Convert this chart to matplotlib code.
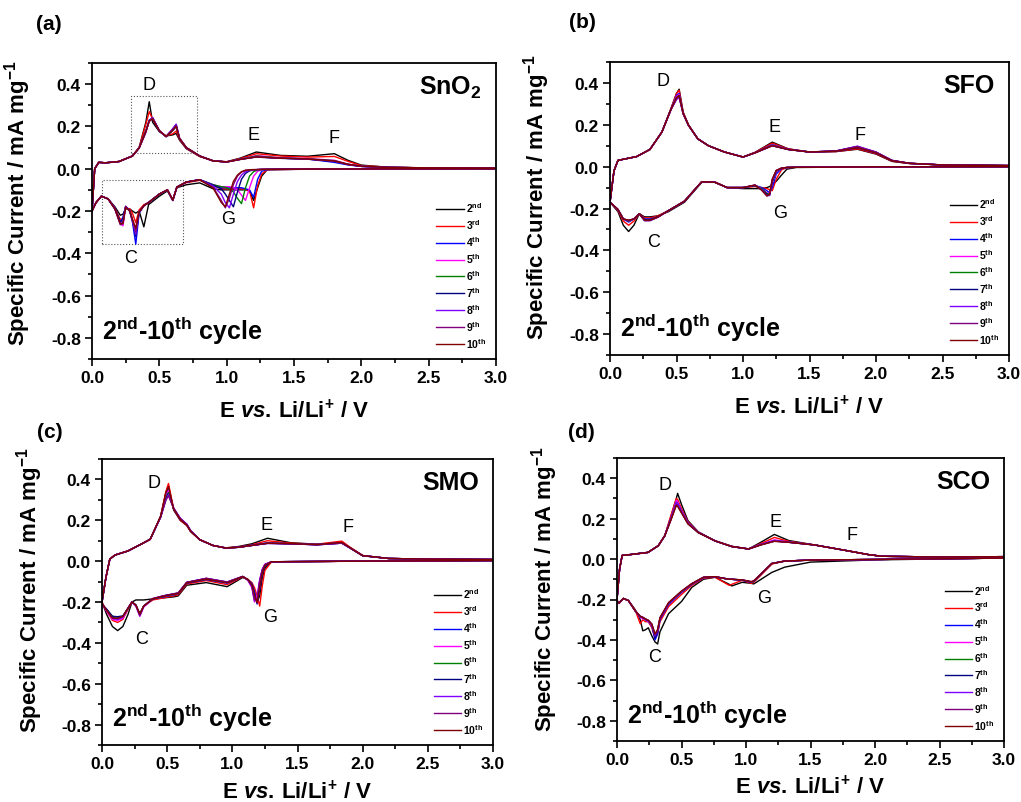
import numpy as np
import matplotlib
matplotlib.use("Agg")
import matplotlib.pyplot as plt
from matplotlib.patches import Rectangle
from matplotlib.ticker import MultipleLocator, FormatStrFormatter

plt.rcParams['font.family'] = ['Liberation Sans', 'DejaVu Sans']
plt.rcParams['mathtext.fontset'] = 'custom'
plt.rcParams['mathtext.rm'] = 'Liberation Sans:bold'
plt.rcParams['mathtext.it'] = 'Liberation Sans:italic:bold'
plt.rcParams['mathtext.bf'] = 'Liberation Sans:bold'

# cycle labels and colours (2nd ... 10th)
CYCLES = [r'2$^{\mathbf{nd}}$', r'3$^{\mathbf{rd}}$', r'4$^{\mathbf{th}}$', r'5$^{\mathbf{th}}$',
          r'6$^{\mathbf{th}}$', r'7$^{\mathbf{th}}$', r'8$^{\mathbf{th}}$', r'9$^{\mathbf{th}}$',
          r'10$^{\mathbf{th}}$']
COLORS = ['#000000', '#ff0000', '#0000ff', '#ff00ff', '#008000',
          '#000080', '#8000ff', '#800080', '#800000']

# ---------------- (a) SnO2 ----------------
A_E_AN = [0.0, 0.02, 0.05, 0.1, 0.2, 0.3, 0.35, 0.4, 0.425, 0.45, 0.5, 0.55, 0.6, 0.625, 0.65,
          0.7, 0.8, 0.9, 1.0, 1.1, 1.22, 1.4, 1.6, 1.8, 1.9, 2.0, 2.2, 2.5, 3.0]
A_I_AN = [
    [-0.20, 0.0, 0.03, 0.028, 0.034, 0.06, 0.10, 0.22, 0.317, 0.22, 0.175, 0.155, 0.16, 0.167, 0.135,
     0.095, 0.058, 0.037, 0.033, 0.05, 0.079, 0.063, 0.059, 0.071, 0.04, 0.017, 0.007, 0.004, 0.003],
    [-0.20, 0.0, 0.03, 0.028, 0.034, 0.06, 0.10, 0.21, 0.27, 0.235, 0.178, 0.155, 0.165, 0.178, 0.138,
     0.096, 0.058, 0.037, 0.033, 0.048, 0.071, 0.06, 0.055, 0.058, 0.035, 0.015, 0.007, 0.004, 0.003],
    [-0.20, 0.0, 0.03, 0.028, 0.034, 0.06, 0.098, 0.18, 0.225, 0.238, 0.178, 0.152, 0.18, 0.20, 0.142,
     0.098, 0.06, 0.037, 0.032, 0.045, 0.058, 0.05, 0.046, 0.03, 0.018, 0.011, 0.006, 0.004, 0.003],
    [-0.20, 0.0, 0.03, 0.028, 0.034, 0.06, 0.098, 0.175, 0.225, 0.24, 0.18, 0.152, 0.185, 0.205, 0.143,
     0.10, 0.06, 0.037, 0.032, 0.045, 0.062, 0.052, 0.048, 0.04, 0.022, 0.012, 0.006, 0.004, 0.003],
    [-0.20, 0.0, 0.03, 0.028, 0.034, 0.06, 0.098, 0.178, 0.228, 0.238, 0.18, 0.152, 0.182, 0.20, 0.142,
     0.10, 0.06, 0.037, 0.032, 0.045, 0.06, 0.051, 0.047, 0.038, 0.021, 0.012, 0.006, 0.004, 0.003],
    [-0.20, 0.0, 0.03, 0.028, 0.034, 0.06, 0.098, 0.175, 0.23, 0.24, 0.18, 0.152, 0.188, 0.21, 0.144,
     0.10, 0.06, 0.037, 0.032, 0.044, 0.055, 0.049, 0.045, 0.035, 0.02, 0.011, 0.006, 0.004, 0.003],
    [-0.20, 0.0, 0.03, 0.028, 0.034, 0.06, 0.098, 0.172, 0.228, 0.242, 0.18, 0.152, 0.19, 0.21, 0.145,
     0.10, 0.06, 0.037, 0.032, 0.044, 0.057, 0.05, 0.046, 0.036, 0.02, 0.011, 0.006, 0.004, 0.003],
    [-0.20, 0.0, 0.03, 0.028, 0.034, 0.06, 0.098, 0.174, 0.226, 0.24, 0.18, 0.152, 0.186, 0.205, 0.144,
     0.10, 0.06, 0.037, 0.032, 0.044, 0.056, 0.05, 0.046, 0.036, 0.02, 0.011, 0.006, 0.004, 0.003],
    [-0.20, 0.0, 0.03, 0.028, 0.034, 0.06, 0.098, 0.176, 0.225, 0.236, 0.18, 0.152, 0.182, 0.20, 0.143,
     0.10, 0.06, 0.037, 0.032, 0.044, 0.056, 0.05, 0.046, 0.037, 0.021, 0.012, 0.006, 0.004, 0.003],
]
A_E_CA = [0.0, 0.03, 0.07, 0.12, 0.17, 0.21, 0.23, 0.25, 0.28, 0.3, 0.325, 0.35, 0.385, 0.42, 0.5,
          0.56, 0.6, 0.63, 0.7, 0.8, 0.9, 0.96, 0.99, 1.02, 1.05, 1.08, 1.11, 1.14, 1.17, 1.2,
          1.23, 1.26, 1.3, 1.5, 2.0, 3.0]
A_I_CA = [
    [-0.20, -0.16, -0.13, -0.143, -0.18, -0.22, -0.215, -0.19, -0.19, -0.20, -0.21, -0.20, -0.275, -0.17, -0.13,
     -0.105, -0.15, -0.09, -0.076, -0.067, -0.095, -0.10, -0.10, -0.10, -0.10, -0.10, -0.10, -0.10, -0.105, -0.15,
     -0.09, -0.035, -0.005, -0.003, -0.001, 0.0],
    [-0.20, -0.16, -0.13, -0.143, -0.185, -0.24, -0.235, -0.185, -0.19, -0.21, -0.255, -0.195, -0.17, -0.16, -0.12,
     -0.10, -0.15, -0.088, -0.066, -0.055, -0.08, -0.094, -0.095, -0.095, -0.095, -0.095, -0.095, -0.098, -0.105, -0.185,
     -0.08, -0.025, -0.005, -0.003, -0.001, 0.0],
    [-0.20, -0.16, -0.13, -0.143, -0.185, -0.255, -0.23, -0.178, -0.20, -0.25, -0.357, -0.21, -0.175, -0.16, -0.12,
     -0.10, -0.15, -0.087, -0.063, -0.052, -0.076, -0.09, -0.09, -0.09, -0.09, -0.09, -0.09, -0.095, -0.10, -0.135,
     -0.05, -0.012, -0.004, -0.003, -0.001, 0.0],
    [-0.20, -0.16, -0.13, -0.143, -0.19, -0.26, -0.27, -0.18, -0.20, -0.24, -0.29, -0.205, -0.175, -0.16, -0.12,
     -0.10, -0.15, -0.087, -0.063, -0.052, -0.076, -0.085, -0.085, -0.085, -0.088, -0.10, -0.125, -0.15, -0.09, -0.035,
     -0.012, -0.005, -0.003, -0.002, -0.001, 0.0],
    [-0.20, -0.16, -0.13, -0.143, -0.19, -0.255, -0.25, -0.18, -0.20, -0.24, -0.30, -0.205, -0.175, -0.16, -0.12,
     -0.10, -0.15, -0.087, -0.063, -0.052, -0.076, -0.085, -0.088, -0.095, -0.11, -0.14, -0.165, -0.09, -0.035, -0.014,
     -0.006, -0.004, -0.003, -0.002, -0.001, 0.0],
    [-0.20, -0.16, -0.13, -0.143, -0.19, -0.25, -0.24, -0.178, -0.20, -0.245, -0.32, -0.205, -0.175, -0.16, -0.12,
     -0.10, -0.15, -0.087, -0.063, -0.052, -0.078, -0.095, -0.12, -0.15, -0.18, -0.11, -0.05, -0.022, -0.01, -0.006,
     -0.004, -0.003, -0.003, -0.002, -0.001, 0.0],
    [-0.20, -0.16, -0.13, -0.143, -0.19, -0.26, -0.25, -0.178, -0.20, -0.245, -0.31, -0.205, -0.175, -0.16, -0.12,
     -0.10, -0.148, -0.087, -0.063, -0.052, -0.082, -0.12, -0.16, -0.185, -0.12, -0.06, -0.03, -0.014, -0.007, -0.005,
     -0.004, -0.003, -0.003, -0.002, -0.001, 0.0],
    [-0.20, -0.16, -0.13, -0.143, -0.19, -0.265, -0.26, -0.18, -0.20, -0.24, -0.30, -0.205, -0.175, -0.16, -0.12,
     -0.10, -0.148, -0.087, -0.063, -0.052, -0.088, -0.15, -0.185, -0.14, -0.075, -0.035, -0.016, -0.008, -0.006, -0.005,
     -0.004, -0.003, -0.003, -0.002, -0.001, 0.0],
    [-0.20, -0.16, -0.13, -0.143, -0.19, -0.26, -0.26, -0.182, -0.20, -0.24, -0.28, -0.205, -0.175, -0.16, -0.12,
     -0.10, -0.148, -0.087, -0.063, -0.052, -0.092, -0.16, -0.18, -0.12, -0.06, -0.03, -0.014, -0.007, -0.005, -0.004,
     -0.004, -0.003, -0.003, -0.002, -0.001, 0.0],
]

# ---------------- (b) SFO ----------------
B_E_AN = [0.0, 0.03, 0.06, 0.2, 0.3, 0.39, 0.46, 0.5, 0.52, 0.55, 0.59, 0.66, 0.74, 0.86, 1.0, 1.09,
          1.22, 1.34, 1.5, 1.7, 1.86, 2.0, 2.12, 2.25, 2.5, 3.0]
B_I_AN = [
    [-0.17, -0.02, 0.03, 0.048, 0.082, 0.165, 0.28, 0.35, 0.37, 0.26, 0.20, 0.133, 0.10, 0.07, 0.046, 0.068,
     0.117, 0.085, 0.07, 0.072, 0.083, 0.06, 0.025, 0.015, 0.008, 0.005],
    [-0.17, -0.02, 0.03, 0.048, 0.082, 0.165, 0.28, 0.35, 0.365, 0.26, 0.20, 0.133, 0.10, 0.07, 0.046, 0.068,
     0.112, 0.085, 0.07, 0.072, 0.085, 0.062, 0.026, 0.015, 0.008, 0.005],
    [-0.17, -0.02, 0.03, 0.048, 0.082, 0.165, 0.278, 0.34, 0.35, 0.255, 0.198, 0.133, 0.10, 0.07, 0.046, 0.066,
     0.105, 0.083, 0.07, 0.073, 0.09, 0.065, 0.028, 0.016, 0.008, 0.005],
    [-0.17, -0.02, 0.03, 0.048, 0.082, 0.165, 0.277, 0.335, 0.345, 0.255, 0.198, 0.133, 0.10, 0.07, 0.046, 0.066,
     0.103, 0.083, 0.07, 0.074, 0.093, 0.067, 0.029, 0.016, 0.008, 0.005],
    [-0.17, -0.02, 0.03, 0.048, 0.082, 0.165, 0.276, 0.33, 0.34, 0.254, 0.198, 0.133, 0.10, 0.07, 0.046, 0.066,
     0.102, 0.082, 0.07, 0.074, 0.095, 0.068, 0.029, 0.016, 0.008, 0.005],
    [-0.17, -0.02, 0.03, 0.048, 0.082, 0.165, 0.275, 0.325, 0.335, 0.253, 0.197, 0.133, 0.10, 0.07, 0.046, 0.066,
     0.10, 0.082, 0.07, 0.075, 0.096, 0.069, 0.03, 0.016, 0.008, 0.005],
    [-0.17, -0.02, 0.03, 0.048, 0.082, 0.165, 0.274, 0.32, 0.33, 0.252, 0.197, 0.133, 0.10, 0.07, 0.046, 0.066,
     0.10, 0.082, 0.07, 0.075, 0.098, 0.07, 0.03, 0.016, 0.008, 0.005],
    [-0.17, -0.02, 0.03, 0.048, 0.082, 0.165, 0.275, 0.325, 0.335, 0.253, 0.197, 0.133, 0.10, 0.07, 0.046, 0.066,
     0.10, 0.082, 0.07, 0.075, 0.096, 0.069, 0.03, 0.016, 0.008, 0.005],
    [-0.17, -0.02, 0.03, 0.048, 0.082, 0.165, 0.276, 0.33, 0.34, 0.254, 0.198, 0.133, 0.10, 0.07, 0.046, 0.066,
     0.10, 0.082, 0.07, 0.074, 0.09, 0.066, 0.028, 0.016, 0.008, 0.005],
]
B_E_CA = [0.0, 0.06, 0.1, 0.14, 0.18, 0.22, 0.26, 0.3, 0.36, 0.44, 0.56, 0.69, 0.79, 0.88, 1.0, 1.09,
          1.14, 1.18, 1.2, 1.22, 1.25, 1.29, 1.33, 1.4, 2.0, 3.0]
B_I_CA = [
    [-0.17, -0.215, -0.28, -0.31, -0.28, -0.225, -0.24, -0.24, -0.235, -0.215, -0.17, -0.075, -0.075, -0.10, -0.105,
     -0.105, -0.105, -0.10, -0.095, -0.085, -0.07, -0.04, -0.012, -0.004, -0.001, 0.0],
    [-0.17, -0.21, -0.26, -0.28, -0.26, -0.225, -0.245, -0.245, -0.235, -0.21, -0.165, -0.072, -0.073, -0.10, -0.10,
     -0.095, -0.10, -0.105, -0.11, -0.115, -0.06, -0.015, -0.005, -0.003, -0.001, 0.0],
    [-0.17, -0.205, -0.25, -0.265, -0.25, -0.225, -0.25, -0.25, -0.24, -0.21, -0.165, -0.072, -0.075, -0.10, -0.10,
     -0.09, -0.10, -0.115, -0.125, -0.10, -0.035, -0.01, -0.004, -0.003, -0.001, 0.0],
    [-0.17, -0.205, -0.25, -0.26, -0.25, -0.225, -0.255, -0.255, -0.24, -0.21, -0.165, -0.072, -0.075, -0.10, -0.10,
     -0.09, -0.105, -0.125, -0.13, -0.08, -0.025, -0.008, -0.004, -0.003, -0.001, 0.0],
    [-0.17, -0.205, -0.25, -0.26, -0.25, -0.225, -0.255, -0.255, -0.24, -0.21, -0.165, -0.072, -0.075, -0.10, -0.10,
     -0.09, -0.105, -0.128, -0.132, -0.075, -0.022, -0.008, -0.004, -0.003, -0.001, 0.0],
    [-0.17, -0.205, -0.25, -0.258, -0.25, -0.225, -0.255, -0.255, -0.24, -0.21, -0.165, -0.072, -0.075, -0.10, -0.10,
     -0.09, -0.108, -0.132, -0.135, -0.07, -0.02, -0.007, -0.004, -0.003, -0.001, 0.0],
    [-0.17, -0.205, -0.25, -0.258, -0.25, -0.225, -0.258, -0.258, -0.242, -0.21, -0.165, -0.072, -0.075, -0.10, -0.10,
     -0.088, -0.11, -0.138, -0.138, -0.065, -0.02, -0.007, -0.004, -0.003, -0.001, 0.0],
    [-0.17, -0.205, -0.25, -0.256, -0.25, -0.225, -0.258, -0.258, -0.242, -0.21, -0.165, -0.072, -0.075, -0.10, -0.10,
     -0.088, -0.112, -0.14, -0.135, -0.06, -0.018, -0.007, -0.004, -0.003, -0.001, 0.0],
    [-0.17, -0.205, -0.25, -0.256, -0.25, -0.225, -0.256, -0.256, -0.24, -0.21, -0.165, -0.072, -0.075, -0.10, -0.10,
     -0.088, -0.112, -0.14, -0.132, -0.06, -0.018, -0.007, -0.004, -0.003, -0.001, 0.0],
]

# ---------------- (c) SMO ----------------
C_E_AN = [0.0, 0.03, 0.06, 0.1, 0.2, 0.3, 0.37, 0.45, 0.49, 0.51, 0.55, 0.6, 0.65, 0.68, 0.75, 0.85,
          0.95, 1.05, 1.15, 1.27, 1.45, 1.65, 1.84, 1.9, 2.0, 2.2, 2.5, 3.0]
C_I_AN = [
    [-0.20, -0.08, 0.01, 0.03, 0.05, 0.083, 0.107, 0.22, 0.335, 0.37, 0.25, 0.20, 0.175, 0.145, 0.105, 0.077,
     0.065, 0.072, 0.085, 0.112, 0.09, 0.083, 0.09, 0.065, 0.026, 0.013, 0.01, 0.008],
    [-0.20, -0.08, 0.01, 0.03, 0.05, 0.083, 0.107, 0.22, 0.34, 0.38, 0.255, 0.20, 0.175, 0.145, 0.105, 0.077,
     0.065, 0.07, 0.08, 0.10, 0.088, 0.083, 0.098, 0.07, 0.028, 0.013, 0.01, 0.008],
    [-0.20, -0.08, 0.01, 0.03, 0.05, 0.083, 0.107, 0.218, 0.32, 0.35, 0.255, 0.205, 0.178, 0.147, 0.105, 0.077,
     0.064, 0.068, 0.078, 0.09, 0.085, 0.082, 0.09, 0.066, 0.027, 0.013, 0.01, 0.008],
    [-0.20, -0.08, 0.01, 0.03, 0.05, 0.083, 0.107, 0.218, 0.315, 0.345, 0.26, 0.21, 0.18, 0.148, 0.105, 0.077,
     0.064, 0.068, 0.077, 0.088, 0.085, 0.081, 0.09, 0.066, 0.027, 0.013, 0.01, 0.008],
    [-0.20, -0.08, 0.01, 0.03, 0.05, 0.083, 0.107, 0.217, 0.31, 0.335, 0.258, 0.208, 0.18, 0.148, 0.105, 0.077,
     0.064, 0.068, 0.077, 0.088, 0.085, 0.081, 0.089, 0.066, 0.027, 0.013, 0.01, 0.008],
    [-0.20, -0.08, 0.01, 0.03, 0.05, 0.083, 0.107, 0.216, 0.305, 0.33, 0.257, 0.208, 0.18, 0.148, 0.105, 0.077,
     0.064, 0.068, 0.077, 0.087, 0.085, 0.08, 0.088, 0.066, 0.027, 0.013, 0.01, 0.008],
    [-0.20, -0.08, 0.01, 0.03, 0.05, 0.083, 0.107, 0.215, 0.30, 0.325, 0.258, 0.21, 0.182, 0.15, 0.105, 0.077,
     0.064, 0.068, 0.077, 0.087, 0.085, 0.08, 0.088, 0.066, 0.027, 0.013, 0.01, 0.008],
    [-0.20, -0.08, 0.01, 0.03, 0.05, 0.083, 0.107, 0.215, 0.298, 0.32, 0.257, 0.208, 0.18, 0.148, 0.105, 0.077,
     0.064, 0.068, 0.077, 0.087, 0.085, 0.08, 0.088, 0.066, 0.027, 0.013, 0.01, 0.008],
    [-0.20, -0.08, 0.01, 0.03, 0.05, 0.083, 0.107, 0.22, 0.335, 0.365, 0.255, 0.205, 0.177, 0.146, 0.105, 0.077,
     0.064, 0.068, 0.077, 0.088, 0.086, 0.081, 0.092, 0.067, 0.027, 0.013, 0.01, 0.008],
]
C_E_CA = [0.0, 0.035, 0.08, 0.12, 0.16, 0.2, 0.23, 0.26, 0.29, 0.32, 0.39, 0.47, 0.55, 0.585, 0.65, 0.8,
          0.96, 1.08, 1.12, 1.15, 1.17, 1.19, 1.21, 1.23, 1.25, 1.3, 2.0, 3.0]
C_I_CA = [
    [-0.20, -0.26, -0.32, -0.34, -0.32, -0.26, -0.20, -0.19, -0.19, -0.19, -0.185, -0.18, -0.175, -0.17, -0.118,
     -0.105, -0.125, -0.08, -0.09, -0.11, -0.15, -0.20, -0.17, -0.08, -0.035, -0.003, 0.0, 0.003],
    [-0.20, -0.245, -0.29, -0.30, -0.285, -0.235, -0.20, -0.22, -0.255, -0.22, -0.19, -0.18, -0.17, -0.165, -0.112,
     -0.095, -0.115, -0.077, -0.09, -0.105, -0.13, -0.17, -0.22, -0.12, -0.045, -0.004, 0.0, 0.003],
    [-0.21, -0.24, -0.275, -0.285, -0.275, -0.23, -0.20, -0.215, -0.26, -0.22, -0.185, -0.175, -0.165, -0.16, -0.108,
     -0.09, -0.108, -0.076, -0.09, -0.11, -0.15, -0.21, -0.14, -0.06, -0.025, -0.003, 0.0, 0.003],
    [-0.21, -0.245, -0.285, -0.29, -0.28, -0.23, -0.20, -0.22, -0.27, -0.225, -0.185, -0.172, -0.162, -0.158, -0.105,
     -0.086, -0.104, -0.075, -0.095, -0.13, -0.20, -0.17, -0.09, -0.04, -0.015, -0.003, 0.0, 0.003],
    [-0.21, -0.235, -0.27, -0.275, -0.27, -0.23, -0.20, -0.215, -0.26, -0.22, -0.185, -0.172, -0.162, -0.158, -0.105,
     -0.086, -0.104, -0.075, -0.092, -0.12, -0.18, -0.20, -0.11, -0.05, -0.02, -0.003, 0.0, 0.003],
    [-0.21, -0.235, -0.27, -0.272, -0.268, -0.23, -0.20, -0.215, -0.262, -0.22, -0.185, -0.17, -0.16, -0.156, -0.104,
     -0.085, -0.103, -0.075, -0.092, -0.12, -0.185, -0.195, -0.10, -0.045, -0.018, -0.003, 0.0, 0.003],
    [-0.21, -0.24, -0.28, -0.285, -0.275, -0.23, -0.20, -0.218, -0.268, -0.222, -0.183, -0.17, -0.16, -0.156, -0.104,
     -0.084, -0.102, -0.075, -0.093, -0.125, -0.195, -0.185, -0.095, -0.04, -0.016, -0.003, 0.0, 0.003],
    [-0.21, -0.24, -0.28, -0.28, -0.272, -0.23, -0.20, -0.216, -0.265, -0.22, -0.183, -0.17, -0.16, -0.156, -0.104,
     -0.084, -0.102, -0.075, -0.092, -0.122, -0.19, -0.19, -0.10, -0.042, -0.017, -0.003, 0.0, 0.003],
    [-0.21, -0.24, -0.278, -0.28, -0.27, -0.23, -0.20, -0.215, -0.26, -0.22, -0.184, -0.172, -0.162, -0.158, -0.106,
     -0.088, -0.106, -0.076, -0.09, -0.115, -0.165, -0.205, -0.13, -0.055, -0.022, -0.003, 0.0, 0.003],
]

# ---------------- (d) SCO ----------------
D_E_AN = [0.0, 0.02, 0.04, 0.1, 0.24, 0.32, 0.37, 0.42, 0.46, 0.47, 0.5, 0.55, 0.63, 0.76, 0.89, 1.02,
          1.12, 1.22, 1.33, 1.53, 1.77, 1.95, 2.05, 2.5, 3.0]
D_I_AN = [
    [-0.20, -0.05, 0.018, 0.022, 0.033, 0.066, 0.115, 0.215, 0.30, 0.325, 0.27, 0.19, 0.135, 0.09, 0.063, 0.05,
     0.085, 0.122, 0.092, 0.07, 0.043, 0.022, 0.014, 0.01, 0.012],
    [-0.20, -0.05, 0.018, 0.022, 0.033, 0.066, 0.115, 0.22, 0.30, 0.295, 0.25, 0.185, 0.133, 0.09, 0.063, 0.05,
     0.078, 0.107, 0.088, 0.07, 0.043, 0.022, 0.014, 0.01, 0.012],
    [-0.20, -0.05, 0.018, 0.022, 0.033, 0.066, 0.115, 0.205, 0.285, 0.28, 0.24, 0.18, 0.132, 0.09, 0.062, 0.05,
     0.072, 0.092, 0.084, 0.07, 0.043, 0.022, 0.014, 0.01, 0.012],
    [-0.20, -0.05, 0.018, 0.022, 0.033, 0.066, 0.115, 0.205, 0.29, 0.285, 0.24, 0.18, 0.132, 0.09, 0.062, 0.05,
     0.074, 0.095, 0.085, 0.07, 0.043, 0.022, 0.014, 0.01, 0.012],
    [-0.20, -0.05, 0.018, 0.022, 0.033, 0.066, 0.115, 0.202, 0.28, 0.275, 0.235, 0.178, 0.132, 0.09, 0.062, 0.05,
     0.072, 0.09, 0.084, 0.07, 0.043, 0.022, 0.014, 0.01, 0.012],
    [-0.20, -0.05, 0.018, 0.022, 0.033, 0.066, 0.115, 0.2, 0.275, 0.27, 0.232, 0.176, 0.131, 0.09, 0.062, 0.05,
     0.072, 0.09, 0.083, 0.07, 0.043, 0.022, 0.014, 0.01, 0.012],
    [-0.20, -0.05, 0.018, 0.022, 0.033, 0.066, 0.115, 0.202, 0.28, 0.275, 0.235, 0.178, 0.132, 0.09, 0.062, 0.05,
     0.073, 0.092, 0.084, 0.07, 0.043, 0.022, 0.014, 0.01, 0.012],
    [-0.20, -0.05, 0.018, 0.022, 0.033, 0.066, 0.115, 0.198, 0.27, 0.265, 0.23, 0.175, 0.131, 0.09, 0.062, 0.05,
     0.071, 0.088, 0.083, 0.07, 0.043, 0.022, 0.014, 0.01, 0.012],
    [-0.20, -0.05, 0.018, 0.022, 0.033, 0.066, 0.115, 0.196, 0.265, 0.26, 0.228, 0.174, 0.131, 0.09, 0.062, 0.05,
     0.071, 0.088, 0.083, 0.07, 0.043, 0.022, 0.014, 0.01, 0.012],
]
D_E_CA = [0.0, 0.015, 0.05, 0.088, 0.14, 0.18, 0.2, 0.22, 0.243, 0.27, 0.295, 0.315, 0.333, 0.4, 0.5,
          0.58, 0.67, 0.76, 0.87, 0.89, 0.97, 1.04, 1.06, 1.1, 1.2, 1.3, 1.5, 2.0, 3.0]
D_I_CA = [
    [-0.205, -0.215, -0.195, -0.205, -0.25, -0.30, -0.355, -0.35, -0.34, -0.38, -0.41, -0.42, -0.36, -0.27, -0.21,
     -0.14, -0.10, -0.09, -0.125, -0.133, -0.115, -0.12, -0.123, -0.107, -0.066, -0.04, -0.015, -0.004, 0.005],
    [-0.205, -0.215, -0.195, -0.205, -0.25, -0.32, -0.30, -0.31, -0.31, -0.34, -0.39, -0.37, -0.31, -0.235, -0.175,
     -0.13, -0.095, -0.09, -0.13, -0.125, -0.105, -0.12, -0.115, -0.09, -0.025, -0.01, -0.005, -0.002, 0.005],
    [-0.215, -0.22, -0.195, -0.205, -0.255, -0.285, -0.29, -0.30, -0.31, -0.33, -0.40, -0.37, -0.30, -0.225, -0.165,
     -0.125, -0.092, -0.088, -0.10, -0.10, -0.105, -0.115, -0.11, -0.085, -0.022, -0.01, -0.005, -0.002, 0.005],
    [-0.21, -0.218, -0.195, -0.205, -0.255, -0.29, -0.295, -0.30, -0.31, -0.33, -0.385, -0.36, -0.30, -0.222, -0.163,
     -0.124, -0.092, -0.088, -0.10, -0.10, -0.104, -0.114, -0.11, -0.085, -0.022, -0.01, -0.005, -0.002, 0.005],
    [-0.21, -0.218, -0.195, -0.205, -0.255, -0.285, -0.29, -0.298, -0.305, -0.325, -0.38, -0.355, -0.295, -0.22, -0.162,
     -0.123, -0.091, -0.088, -0.10, -0.10, -0.104, -0.113, -0.11, -0.085, -0.022, -0.01, -0.005, -0.002, 0.005],
    [-0.21, -0.218, -0.195, -0.205, -0.255, -0.285, -0.29, -0.298, -0.305, -0.325, -0.39, -0.36, -0.297, -0.22, -0.162,
     -0.123, -0.091, -0.088, -0.10, -0.10, -0.104, -0.113, -0.11, -0.085, -0.022, -0.01, -0.005, -0.002, 0.005],
    [-0.21, -0.218, -0.195, -0.205, -0.255, -0.283, -0.288, -0.296, -0.303, -0.322, -0.38, -0.352, -0.293, -0.218, -0.16,
     -0.122, -0.09, -0.087, -0.10, -0.10, -0.103, -0.112, -0.108, -0.084, -0.022, -0.01, -0.005, -0.002, 0.005],
    [-0.21, -0.218, -0.195, -0.205, -0.255, -0.283, -0.288, -0.296, -0.303, -0.322, -0.375, -0.35, -0.29, -0.216, -0.16,
     -0.122, -0.09, -0.087, -0.10, -0.10, -0.103, -0.112, -0.108, -0.084, -0.022, -0.01, -0.005, -0.002, 0.005],
    [-0.21, -0.218, -0.195, -0.205, -0.255, -0.283, -0.288, -0.296, -0.303, -0.322, -0.37, -0.348, -0.29, -0.215, -0.158,
     -0.121, -0.09, -0.087, -0.10, -0.10, -0.103, -0.112, -0.108, -0.084, -0.022, -0.01, -0.005, -0.002, 0.005],
]

# annotations: (letter, E, I)
A_PEAKS = [('D', 0.42, 0.40), ('E', 1.20, 0.16), ('F', 1.80, 0.15), ('G', 1.01, -0.235), ('C', 0.29, -0.42)]
B_PEAKS = [('D', 0.40, 0.41), ('E', 1.24, 0.19), ('F', 1.88, 0.155), ('G', 1.28, -0.22), ('C', 0.33, -0.36)]
C_PEAKS = [('D', 0.40, 0.384), ('E', 1.26, 0.18), ('F', 1.89, 0.17), ('G', 1.29, -0.27), ('C', 0.30, -0.38)]
D_PEAKS = [('D', 0.37, 0.367), ('E', 1.225, 0.186), ('F', 1.82, 0.12), ('G', 1.14, -0.19), ('C', 0.29, -0.484)]
A_BOXES = [(0.29, 0.076, 0.78, 0.346), (0.072, -0.357, 0.678, -0.052)]

W, H = 1021, 803
fig = plt.figure(figsize=(W / 100, H / 100), dpi=100)


def px_axes(l, t, r, b):
    return fig.add_axes([l / W, 1 - b / H, (r - l) / W, (b - t) / H])


def draw(ax, e_an, i_an, e_ca, i_ca, peaks, name, tag, tagpos, ylabx, ylaby, xlaby):
    for k in range(len(CYCLES)):
        ax.plot(e_an, i_an[k], color=COLORS[k], lw=1.0, label=CYCLES[k])
        ax.plot(e_ca, i_ca[k], color=COLORS[k], lw=1.0)
    ax.set_xlim(0, 3.0)
    ax.set_ylim(-0.9, 0.5)
    ax.xaxis.set_major_locator(MultipleLocator(0.5))
    ax.xaxis.set_minor_locator(MultipleLocator(0.25))
    ax.yaxis.set_major_locator(MultipleLocator(0.2))
    ax.yaxis.set_minor_locator(MultipleLocator(0.1))
    ax.xaxis.set_major_formatter(FormatStrFormatter('%.1f'))
    ax.yaxis.set_major_formatter(FormatStrFormatter('%.1f'))
    ax.tick_params(which='both', direction='out', top=False, right=False, width=1.2)
    ax.tick_params(which='major', length=5, labelsize=12.5, pad=3)
    ax.tick_params(which='minor', length=3)
    for lab in ax.get_xticklabels() + ax.get_yticklabels():
        lab.set_fontweight('bold')
    for s in ax.spines.values():
        s.set_linewidth(1.3)
    ax.set_ylabel(r'Specific Current / mA mg$^{\mathbf{-1}}$', fontsize=16, fontweight='bold')
    ax.yaxis.set_label_coords(ylabx, ylaby)
    ax.set_xlabel(r'E $\mathit{vs.}\,$Li/Li$^{\mathbf{+}}$ / V', fontsize=16, fontweight='bold')
    ax.xaxis.set_label_coords(0.5, xlaby)
    for let, x, y in peaks:
        ax.text(x, y, let, fontsize=13, ha='center', va='center')
    ax.text(0.965, 0.92, name, transform=ax.transAxes, fontsize=18, fontweight='bold',
            ha='right', va='center')
    ax.text(0.025, 0.097, r'2$^{\mathbf{nd}}$-10$^{\mathbf{th}}$ cycle', transform=ax.transAxes,
            fontsize=18, fontweight='bold', ha='left', va='center')
    fig.text(tagpos[0] / W, 1 - tagpos[1] / H, tag, fontsize=15, fontweight='bold',
             ha='left', va='center')
    ax.legend(loc='lower right', bbox_to_anchor=(0.99, 0.01), frameon=False,
              prop={'weight': 'bold', 'size': 7.5}, handlelength=2.6, handletextpad=0.2,
              labelspacing=0.3, borderaxespad=0.2)


ax_a = px_axes(92, 64, 496, 360)
draw(ax_a, A_E_AN, A_I_AN, A_E_CA, A_I_CA, A_PEAKS, r'SnO$_{\mathbf{2}}$', '(a)', (36, 25),
     -0.146, 0.53, -0.135)
for x0, y0, x1, y1 in A_BOXES:
    ax_a.add_patch(Rectangle((x0, y0), x1 - x0, y1 - y0, fill=False, ls=':', ec='#555555', lw=0.8))

ax_b = px_axes(610, 63, 1009, 356)
draw(ax_b, B_E_AN, B_I_AN, B_E_CA, B_I_CA, B_PEAKS, 'SFO', '(b)', (569, 23),
     -0.145, 0.54, -0.135)

ax_c = px_axes(102, 460, 493, 746)
draw(ax_c, C_E_AN, C_I_AN, C_E_CA, C_I_CA, C_PEAKS, 'SMO', '(c)', (37, 432),
     -0.146, 0.544, -0.12)

ax_d = px_axes(617, 459, 1004, 742)
draw(ax_d, D_E_AN, D_I_AN, D_E_CA, D_I_CA, D_PEAKS, 'SCO', '(d)', (568, 432),
     -0.147, 0.54, -0.12)

fig.savefig('out.png', dpi=100)
